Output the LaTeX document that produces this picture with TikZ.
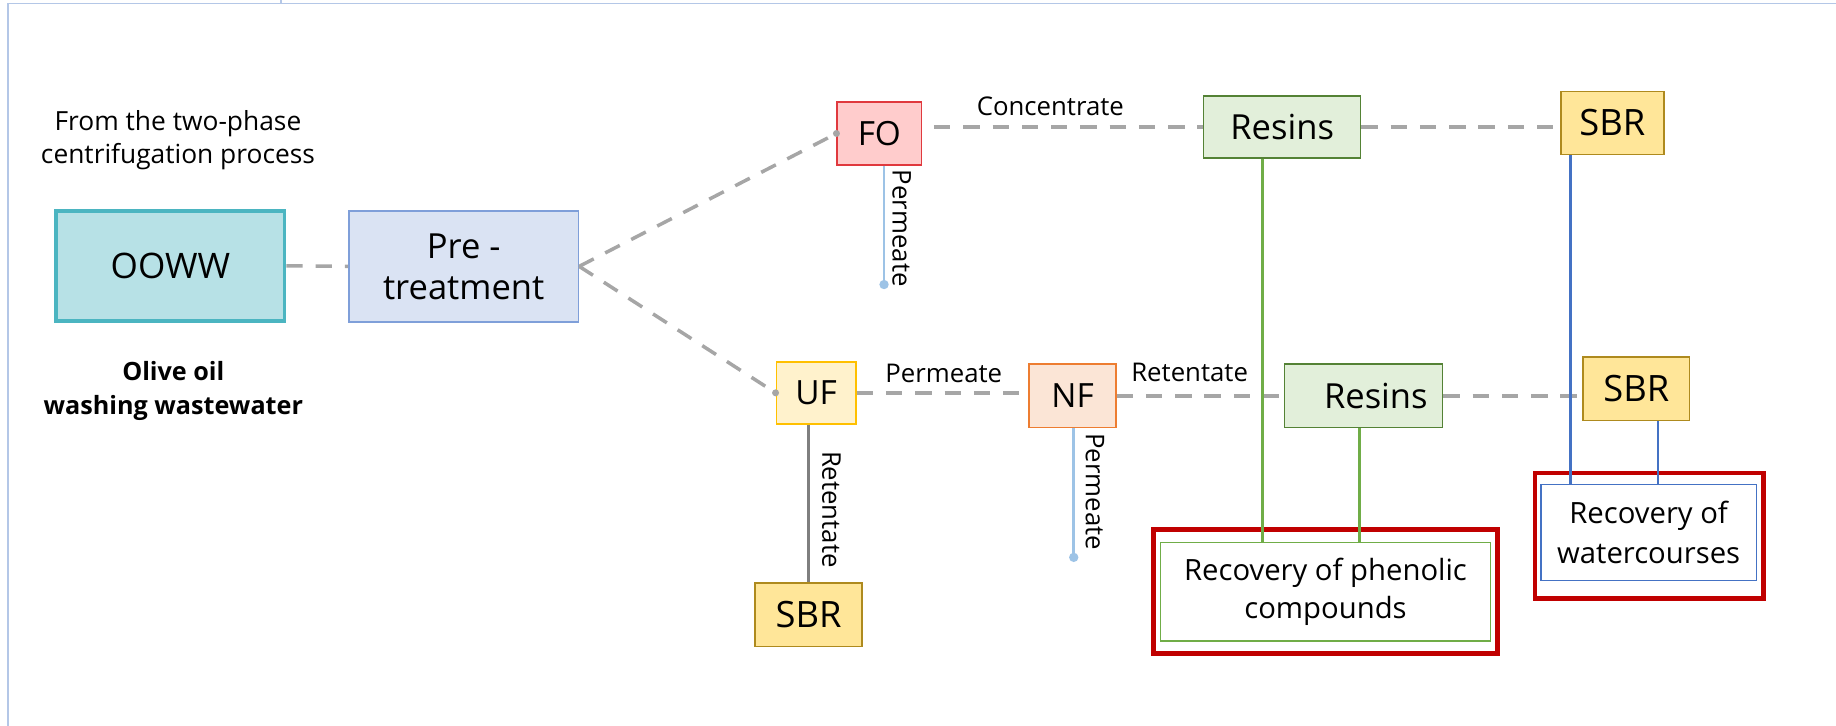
\documentclass[tikz,border=0pt]{standalone}
\usepackage{fontspec}
\setmainfont{Open Sans}
\definecolor{frame}{HTML}{B4C7E7}
\definecolor{dashg}{HTML}{A6A6A6}
\definecolor{tealb}{HTML}{4BB5C1}
\definecolor{tealf}{HTML}{B7E1E6}
\definecolor{pref}{HTML}{DAE3F3}
\definecolor{preb}{HTML}{7F9FD9}
\definecolor{fof}{HTML}{FFCCCC}
\definecolor{fob}{HTML}{E0393E}
\definecolor{resf}{HTML}{E2EFDA}
\definecolor{resb}{HTML}{548235}
\definecolor{sbrf}{HTML}{FFE699}
\definecolor{sbrb}{HTML}{AE8A1E}
\definecolor{uff}{HTML}{FFF2CC}
\definecolor{ufb}{HTML}{FFC000}
\definecolor{nff}{HTML}{FBE5D6}
\definecolor{nfb}{HTML}{ED7D31}
\definecolor{permb}{HTML}{9DC3E6}
\definecolor{retg}{HTML}{7F7F7F}
\definecolor{recg}{HTML}{70AD47}
\definecolor{recb}{HTML}{4472C4}
\definecolor{recr}{HTML}{C00000}
\tikzset{
  box/.style={draw, line width=1.3pt, inner sep=0pt, align=center},
  flow/.style={draw=dashg, line width=3pt, dash pattern=on 14pt off 11pt},
  permline/.style={draw=permb, line width=2.2pt},
  retline/.style={draw=retg, line width=2.2pt},
  greenline/.style={draw=recg, line width=2.2pt},
  blueline/.style={draw=recb, line width=2.2pt},
  lbl/.style={font=\fontsize{22}{26}\selectfont, inner sep=0pt},
  vlbl/.style={font=\fontsize{22}{26}\selectfont, inner sep=0pt, rotate=-90},
  endpt/.style={circle, fill=#1, inner sep=0pt, minimum size=8pt},
  memtxt/.style={font=\fontsize{28.5}{32}\selectfont},
  outred/.style={draw=recr, line width=4pt, inner sep=0pt},
}
\begin{document}
\begin{tikzpicture}[x=1pt, y=-1pt]
\useasboundingbox (0,0) rectangle (1568,620);
% frame
\draw[frame, line width=1.5pt] (7,620) -- (7,3) -- (1568,3);
\draw[frame, line width=1pt] (240,0) -- (240,3);

% left texts
\node[font=\fontsize{22.5}{28}\selectfont, align=center] (src) at (152,119.5) {From the two-phase\\centrifugation process};
\node[box, draw=tealb, fill=tealf, line width=3pt, minimum width=195pt, minimum height=94pt, font=\fontsize{30}{34}\selectfont] (ooww) at (145.5,227) {OOWW};
\node[font=\bfseries\fontsize{21.5}{29}\selectfont, align=center] (oowwlbl) at (148,334) {Olive oil\\washing wastewater};
\node[box, draw=preb, fill=pref, minimum width=196pt, minimum height=95pt, font=\fontsize{29.5}{35}\selectfont] (pre) at (396,227.5) {Pre -\\treatment};

% membranes
\node[box, draw=fob, fill=fof, minimum width=72pt, minimum height=54pt, memtxt] (fo) at (751,114) {FO};
\node[box, draw=ufb, fill=uff, minimum width=68pt, minimum height=53pt, memtxt] (uf) at (697,335.5) {UF};
\node[box, draw=nfb, fill=nff, minimum width=74pt, minimum height=54pt, memtxt] (nf) at (916,338) {NF};

% resins and SBR
\node[box, draw=resb, fill=resf, minimum width=134pt, minimum height=53pt, font=\fontsize{29.5}{33}\selectfont] (res1) at (1095,108.5) {Resins};
\node[box, draw=resb, fill=resf, minimum width=135pt, minimum height=54pt, font=\fontsize{29.5}{33}\selectfont] (res2) at (1164.5,338) {\hspace*{21pt}Resins};
\node[box, draw=sbrb, fill=sbrf, minimum width=88pt, minimum height=54pt, font=\fontsize{31}{33}\selectfont] (sbr1) at (1377,105) {SBR};
\node[box, draw=sbrb, fill=sbrf, minimum width=91pt, minimum height=54pt, font=\fontsize{31}{33}\selectfont] (sbr2) at (1397.5,332) {SBR};
\node[box, draw=sbrb, fill=sbrf, minimum width=91pt, minimum height=54pt, font=\fontsize{31}{33}\selectfont] (sbr3) at (690.5,525) {SBR};

% recovery boxes
\node[outred, minimum width=294pt, minimum height=106pt] (phenout) at (1132,505) {};
\node[box, draw=recg, line width=1.2pt, fill=white, minimum width=282pt, minimum height=84pt, font=\fontsize{25}{33}\selectfont] (phen) at (1132,505.5) {Recovery of phenolic\\compounds};
\node[outred, minimum width=195pt, minimum height=107pt] (waterout) at (1408.5,457.5) {};
\node[box, draw=recb, line width=1.2pt, fill=white, minimum width=184pt, minimum height=82pt, font=\fontsize{25}{34}\selectfont] (water) at (1408,455) {Recovery of\\watercourses};

% dashed flows
\draw[flow] (ooww.east) -- (pre.west);
\draw[flow] (pre.east) -- (fo.west);
\draw[flow] (pre.east) -- (uf.west);
\node[endpt=dashg, minimum size=6pt] (fodot) at (fo.west) {};
\node[endpt=dashg, minimum size=6pt] (ufdot) at (uf.west) {};
\draw[flow] ([xshift=10pt]fo.east |- res1.west) -- (res1.west);
\node[lbl] (conc) at (897,91) {Concentrate};
\draw[flow] (res1.east) -- (res1.east -| sbr1.west);
\draw[flow] (uf.east) -- (uf.east -| nf.west);
\node[lbl] (ufperm) at (806,319) {Permeate};
\draw[flow] (nf.east) -- (nf.east -| res2.west);
\node[lbl] (nfret) at (1016,318) {Retentate};
\draw[flow] (res2.east) -- (res2.east -| sbr2.west);

% side streams
\coordinate (fop) at (755,243);
\draw[permline] (fo.south -| fop) -- (fop);
\node[endpt=permb] (fopdot) at (fop) {};
\node[vlbl] (fopl) at (770,195) {Permeate};

\draw[retline] (uf.south -| sbr3.north) -- (sbr3.north);
\node[vlbl] (ufrl) at (710,435) {Retentate};

\coordinate (nfp) at (917,476);
\draw[permline] (nf.south -| nfp) -- (nfp);
\node[endpt=permb] (nfpdot) at (nfp) {};
\node[vlbl] (nfpl) at (935,420) {Permeate};

% recovery links
\draw[greenline] (res1.south -| 1078,0) -- (phen.north -| 1078,0);
\draw[greenline] (res2.south -| 1161,0) -- (phen.north -| 1161,0);
\draw[blueline] (sbr1.south -| 1341,0) -- (water.north -| 1341,0);
\draw[blueline] (sbr2.south -| 1416,0) -- (water.north -| 1416,0);
\end{tikzpicture}
\end{document}
